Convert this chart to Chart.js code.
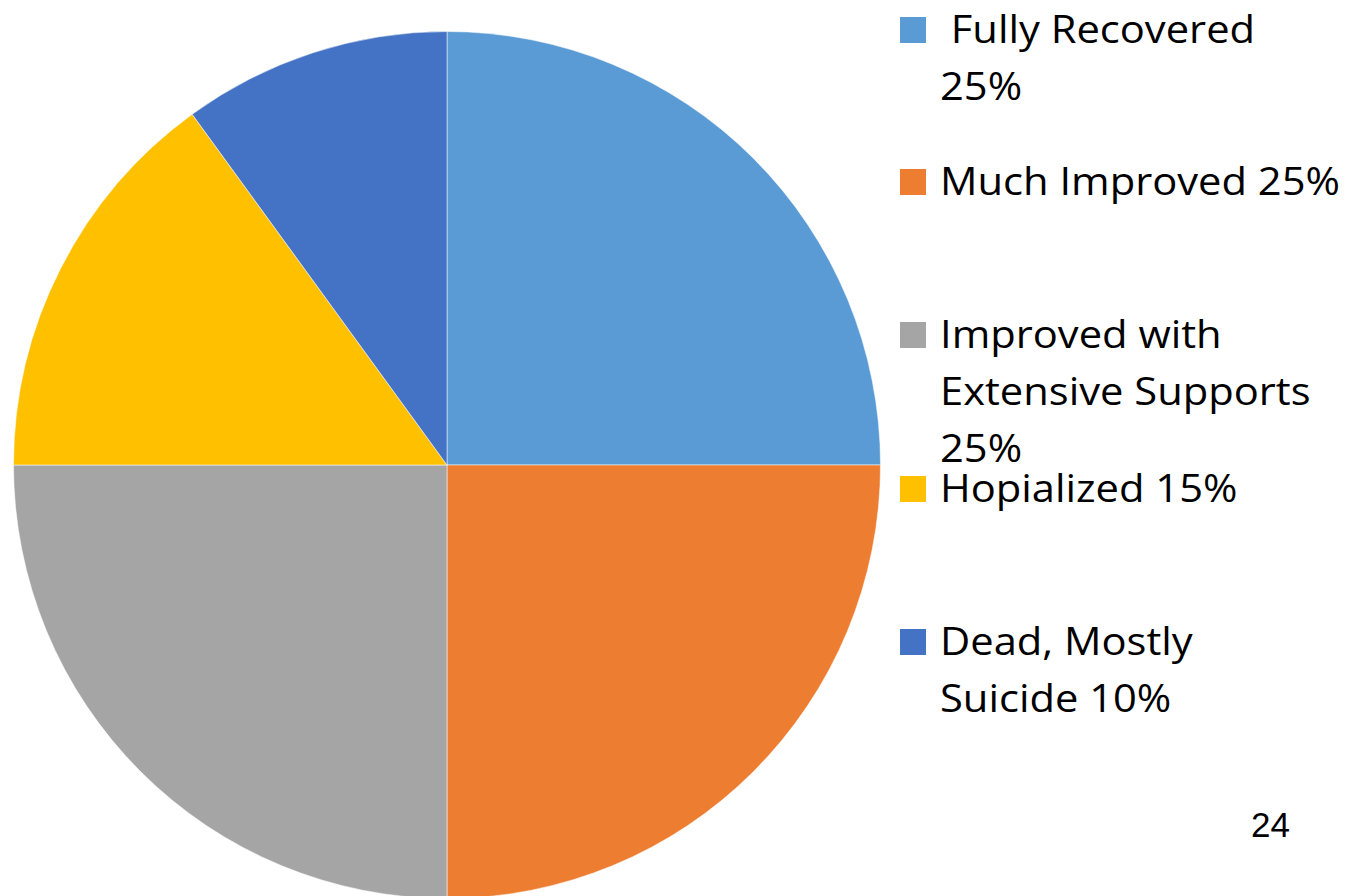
<!DOCTYPE html>
<html>
<head>
<meta charset="utf-8">
<script src="https://cdn.jsdelivr.net/npm/chart.js@4/dist/chart.umd.min.js"></script>
<style>
  html, body { margin: 0; padding: 0; background: #fff; width: 1361px; height: 896px; overflow: hidden; }
  #wrap { position: absolute; left: 13px; top: 31px; width: 868px; height: 868px; }
  .leg { position: absolute; left: 900px; font-family: "Open Sans", Lato, sans-serif; font-size: 38px; color: #000; line-height: 57px; }
  .leg .sw { position: absolute; left: 0; width: 26px; height: 26px; }
  .leg .tx { position: absolute; left: 40px; white-space: pre; transform-origin: 0 0; }
  #page { position: absolute; left: 1251px; top: 805px; font-family: "Liberation Sans", Arial, sans-serif; font-size: 35px; color: #000; }
</style>
</head>
<body>
<div id="wrap"><canvas id="c" width="868" height="868"></canvas></div>
<div id="legend"></div>
<div id="page">24</div>
<script>
const categories = ["Fully Recovered", "Much Improved", "Improved with Extensive Supports", "Hopialized", "Dead, Mostly Suicide"];
const values = [25, 25, 25, 15, 10];
const legendLines = [
  [" Fully Recovered", "25%"],
  ["Much Improved 25%"],
  ["Improved with", "Extensive Supports", "25%"],
  ["Hopialized 15%"],
  ["Dead, Mostly", "Suicide 10%"]
];
const colors = ["#5B9BD5", "#ED7D31", "#A5A5A5", "#FFC000", "#4472C4"];
const legendTops = [15, 167, 320, 474, 627];

new Chart(document.getElementById('c'), {
  type: 'pie',
  data: {
    labels: categories,
    datasets: [{
      data: values,
      backgroundColor: colors,
      borderColor: 'rgba(255,255,255,0.5)',
      borderWidth: 1
    }]
  },
  options: {
    responsive: false,
    animation: false,
    layout: { padding: 0 },
    plugins: { legend: { display: false }, tooltip: { enabled: false } }
  }
});

const leg = document.getElementById('legend');
const mc = document.createElement('canvas').getContext('2d');
mc.font = '38px "Open Sans"';
const sx = 400 / mc.measureText("Much Improved 25%").width;
legendLines.forEach((lines, i) => {
  const d = document.createElement('div');
  d.className = 'leg';
  d.style.top = (legendTops[i] - 15) + 'px';
  const sw = document.createElement('div');
  sw.className = 'sw';
  sw.style.background = colors[i];
  sw.style.top = '17px';
  d.appendChild(sw);
  const tx = document.createElement('div');
  tx.className = 'tx';
  tx.style.transform = 'scaleX(' + sx + ')';
  tx.textContent = lines.join('\n');
  d.appendChild(tx);
  leg.appendChild(d);
});
</script>
</body>
</html>
